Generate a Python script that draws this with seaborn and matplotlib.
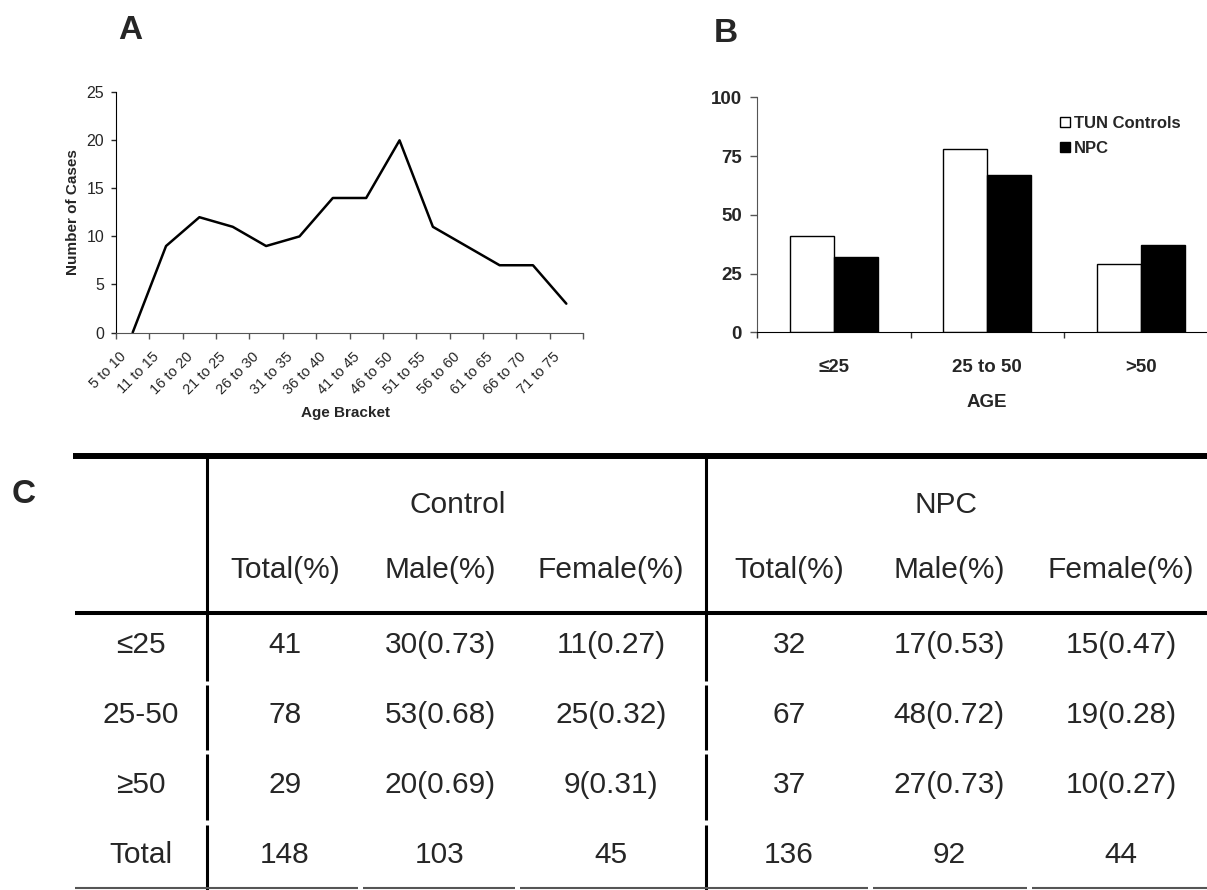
import numpy as np
import pandas as pd
import matplotlib
matplotlib.use("Agg")
import matplotlib.pyplot as plt
import matplotlib.transforms as mtransforms
from matplotlib.patches import Patch
from matplotlib.font_manager import FontProperties
import seaborn as sns

# ---------------- data ----------------
# Panel A
age_brackets = ["5 to 10", "11 to 15", "16 to 20", "21 to 25", "26 to 30", "31 to 35",
                "36 to 40", "41 to 45", "46 to 50", "51 to 55", "56 to 60", "61 to 65",
                "66 to 70", "71 to 75"]
num_cases = [0, 9, 12, 11, 9, 10, 14, 14, 20, 11, 9, 7, 7, 3]
a_yticks = [0, 5, 10, 15, 20, 25]

# Panel B
age_groups = ["≤25", "25 to 50", ">50"]
tun_controls = [41, 78, 29]
npc_cases = [32, 67, 37]
b_series = ["TUN Controls", "NPC"]
b_colors = ["white", "black"]
b_yticks = [0, 25, 50, 75, 100]

# Panel C (table)
col_groups = ["Control", "NPC"]
sub_headers = ["Total(%)", "Male(%)", "Female(%)", "Total(%)", "Male(%)", "Female(%)"]
row_labels = ["≤25", "25-50", "≥50", "Total"]
table_rows = [
    ["41", "30(0.73)", "11(0.27)", "32", "17(0.53)", "15(0.47)"],
    ["78", "53(0.68)", "25(0.32)", "67", "48(0.72)", "19(0.28)"],
    ["29", "20(0.69)", "9(0.31)", "37", "27(0.73)", "10(0.27)"],
    ["148", "103", "45", "136", "92", "44"],
]

# ---------------- style ----------------
sns.set_style("ticks")
plt.rcParams["font.family"] = ["Liberation Sans", "DejaVu Sans"]

W, H = 1207, 890
fig = plt.figure(figsize=(W / 100, H / 100), dpi=100)


def rect(l, t, r, b):
    return [l / W, 1 - b / H, (r - l) / W, (b - t) / H]


# ---------------- Panel A ----------------
axA = fig.add_axes(rect(116, 92.3, 583, 332.5))
dfA = pd.DataFrame({"bracket": age_brackets, "cases": num_cases})
sns.lineplot(data=dfA, x="bracket", y="cases", ax=axA, color="black",
             linewidth=1.8, sort=False)
axA.set_xlim(-0.5, len(age_brackets) - 0.5)
axA.set_ylim(0, 25)
axA.set_yticks(a_yticks)
axA.set_xticks(range(len(age_brackets)))
axA.set_xticklabels(age_brackets, rotation=45, ha="right", va="top", fontsize=10.5)
axA.set_xticks(np.arange(-0.5, len(age_brackets), 1), minor=True)
axA.tick_params(axis="x", which="major", length=0, pad=12.5)
axA.tick_params(axis="x", which="minor", length=4, width=1, color="#555", direction="out")
axA.tick_params(axis="y", length=3.5, width=1, pad=5, labelsize=11.5, direction="out")
for s in ["top", "right"]:
    axA.spines[s].set_visible(False)
axA.spines["bottom"].set_color("#555")
axA.spines["left"].set_color("black")
offs = mtransforms.ScaledTranslation(-4 / 100, 0, fig.dpi_scale_trans)
for lbl in axA.get_xticklabels():
    lbl.set_transform(lbl.get_transform() + offs)
axA.set_xlabel("Age Bracket", fontsize=11, fontweight="bold")
axA.set_ylabel("Number of Cases", fontsize=11, fontweight="bold")
axA.xaxis.set_label_coords(0.4925, -0.335)
axA.xaxis.label.set_va("center")
axA.yaxis.set_label_coords(-0.092, 0.5)
axA.yaxis.label.set_va("center")

# ---------------- Panel B ----------------
axB = fig.add_axes(rect(757, 97.3, 1217.5, 332.3))
dfB = pd.DataFrame({
    "age": age_groups * 2,
    "value": tun_controls + npc_cases,
    "series": [b_series[0]] * len(age_groups) + [b_series[1]] * len(age_groups),
})
sns.barplot(data=dfB, x="age", y="value", hue="series", hue_order=b_series,
            palette=b_colors, saturation=1, edgecolor="black", linewidth=1,
            width=0.575, ax=axB, legend=False)
axB.set_xlim(-0.5, len(age_groups) - 0.5)
axB.set_ylim(0, 100)
axB.set_yticks(b_yticks)
axB.set_xticks(range(len(age_groups)))
axB.set_xticklabels(age_groups)
axB.set_xticks(np.arange(-0.5, len(age_groups), 1), minor=True)
axB.tick_params(axis="x", which="major", length=0, pad=19, labelsize=13.5)
axB.tick_params(axis="x", which="minor", length=4.5, width=1, color="#333", direction="out")
axB.tick_params(axis="y", length=4.8, width=1, color="#555", pad=6, labelsize=13.5, direction="out")
for lbl in axB.get_xticklabels() + axB.get_yticklabels():
    lbl.set_fontweight("bold")
for s in ["top", "right"]:
    axB.spines[s].set_visible(False)
axB.spines["left"].set_color("#555")
axB.spines["bottom"].set_color("black")
axB.set_xlabel("AGE", fontsize=13.5, fontweight="bold")
axB.set_ylabel("")
axB.xaxis.set_label_coords(0.5, -0.30)
axB.xaxis.label.set_va("center")
handles = [Patch(facecolor=c, edgecolor="black", linewidth=1) for c in b_colors]
axB.legend(handles, b_series, loc="upper left",
           bbox_to_anchor=(1060 / W, 1 - 116 / H), bbox_transform=fig.transFigure,
           frameon=False, prop=FontProperties(family="Liberation Sans", weight="bold", size=12),
           handlelength=0.6, handleheight=0.6, handletextpad=0.25,
           labelspacing=0.6, borderpad=0, borderaxespad=0)

# ---------------- Panel labels ----------------
for lab, x, y in [("A", 130, 39), ("B", 726, 42), ("C", 24, 503)]:
    fig.text(x / W, 1 - y / H, lab, fontsize=24, fontweight="bold",
             ha="center", va="baseline")

# ---------------- Panel C (table) ----------------
axT = fig.add_axes([0, 0, 1, 1])
axT.set_xlim(0, W)
axT.set_ylim(H, 0)
axT.axis("off")
axT.patch.set_alpha(0)

axT.plot([73, 1207], [456, 456], color="black", lw=4.3, solid_capstyle="butt")
axT.plot([75, 1207], [613, 613], color="black", lw=2.9, solid_capstyle="butt")
for vx in [207, 706]:
    for y0, y1 in [(456, 681), (685, 750), (754, 820), (825, 890)]:
        axT.plot([vx, vx], [y0, y1], color="black", lw=2.2, solid_capstyle="butt")
for x0, x1 in [(75, 358), (363, 515), (520, 868), (873, 1027), (1032, 1207)]:
    axT.plot([x0, x1], [888, 888], color="#555", lw=1.5, solid_capstyle="butt")

tfs = 21.5
group_x = [458, 946]
col_x = [285, 440, 611, 789, 949, 1121]
row_base = [653, 723, 793, 863]
label_x = 141

for gx, g in zip(group_x, col_groups):
    axT.text(gx, 513, g, fontsize=tfs, ha="center", va="baseline")
for cx, sh in zip(col_x, sub_headers):
    axT.text(cx, 578, sh, fontsize=tfs, ha="center", va="baseline")
for ry, rl, vals in zip(row_base, row_labels, table_rows):
    axT.text(label_x, ry, rl, fontsize=tfs, ha="center", va="baseline")
    for cx, v in zip(col_x, vals):
        axT.text(cx, ry, v, fontsize=tfs, ha="center", va="baseline")

fig.savefig("out.png", dpi=100)
